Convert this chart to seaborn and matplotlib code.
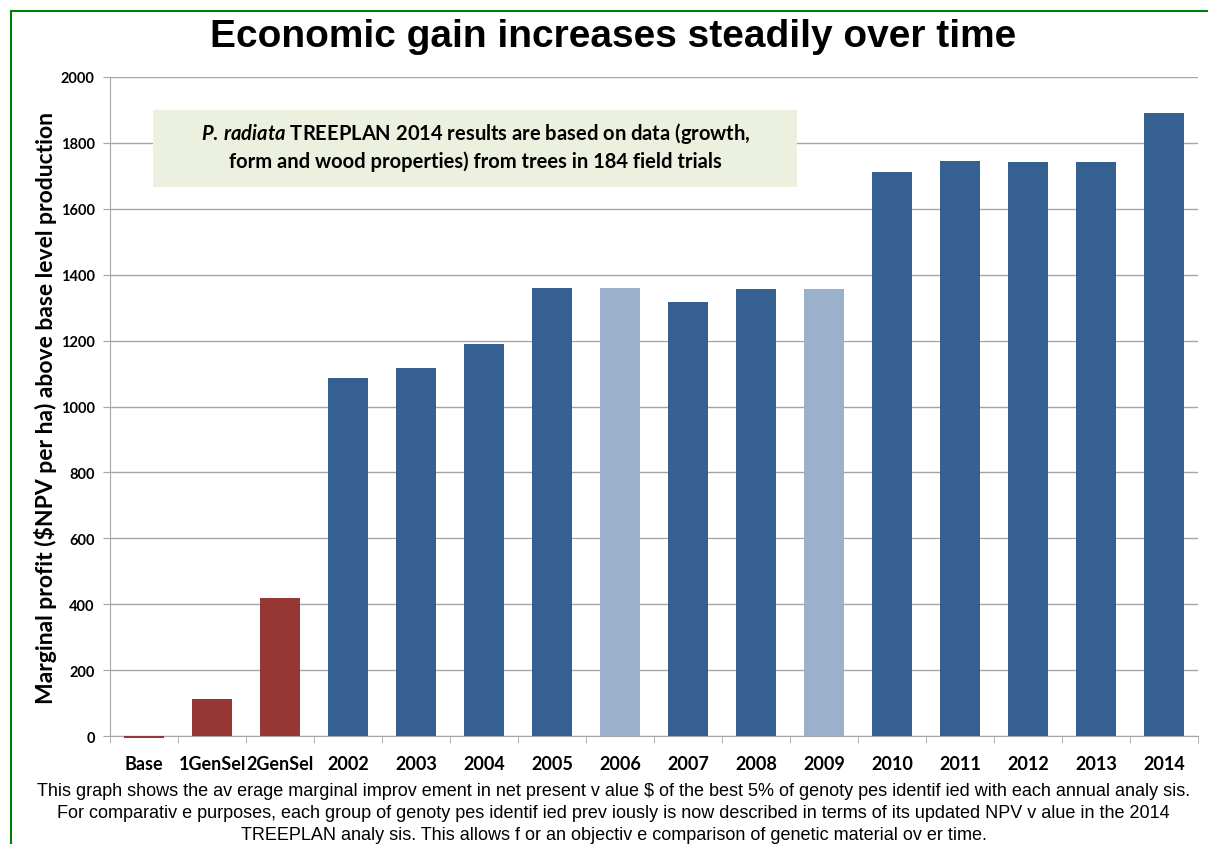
import matplotlib
matplotlib.use("Agg")
import matplotlib.pyplot as plt
import seaborn as sns
import pandas as pd
from matplotlib.patches import Rectangle

categories = ["Base", "1GenSel", "2GenSel", "2002", "2003", "2004", "2005", "2006",
              "2007", "2008", "2009", "2010", "2011", "2012", "2013", "2014"]
values = [-7, 112, 419, 1086, 1117, 1190, 1360, 1360, 1317, 1357, 1357, 1712, 1745, 1742, 1742, 1891]
groups = ["gen", "gen", "gen", "year", "year", "year", "year", "prior",
          "year", "year", "prior", "year", "year", "year", "year", "year"]
group_colors = {"gen": "#953735", "year": "#376092", "prior": "#9bb0cb"}
yticks = [0, 200, 400, 600, 800, 1000, 1200, 1400, 1600, 1800, 2000]

title = "Economic gain increases steadily over time"
ylabel = "Marginal profit ($NPV per ha) above base level production"
caption_lines = [
    "This graph shows the av erage marginal improv ement in net present v alue $ of the best 5% of genoty pes identif ied with each annual analy sis.",
    "For comparativ e purposes, each group of genoty pes identif ied prev iously is now described in terms of its updated NPV v alue in the 2014",
    "TREEPLAN analy sis. This allows f or an objectiv e comparison of genetic material ov er time.",
]

df = pd.DataFrame({"category": categories, "value": values})
palette = [group_colors[g] for g in groups]

sns.set_style("white")
plt.rcParams["font.family"] = ["Lato", "DejaVu Sans"]
plt.rcParams["text.color"] = "black"
plt.rcParams["axes.labelcolor"] = "black"
plt.rcParams["xtick.color"] = "black"
plt.rcParams["ytick.color"] = "black"
plt.rcParams["mathtext.fontset"] = "custom"
plt.rcParams["mathtext.it"] = "Lato:italic:bold"
plt.rcParams["mathtext.rm"] = "Lato:bold"

fig = plt.figure(figsize=(12.08, 8.45), dpi=100)
ax = fig.add_axes([0.0911, 0.1278, 0.9006, 0.7799])

sns.barplot(data=df, x="category", y="value", hue="category", palette=palette,
            legend=False, width=0.6, ax=ax, saturation=1, edgecolor="none")

ax.set_ylim(0, 2000)
ax.set_xlim(-0.5, len(categories) - 0.5)
ax.set_yticks(yticks)
ax.set_yticklabels([str(t) for t in yticks], fontsize=10.5, fontweight="bold")
ax.yaxis.grid(True, color="#a6a6a6", linewidth=1.0)
ax.set_axisbelow(True)
for s in ["top", "right"]:
    ax.spines[s].set_visible(False)
ax.spines["left"].set_color("#a6a6a6")
ax.spines["bottom"].set_color("#a6a6a6")
ax.tick_params(axis="y", length=5, color="#a6a6a6", labelcolor="black", pad=6, left=True)
ax.set_xticks(range(len(categories)))
ax.set_xticklabels(categories, fontsize=13, fontweight="bold")
ax.tick_params(axis="x", which="major", length=0, pad=14, labelcolor="black")
ax.set_xticks([i - 0.5 for i in range(len(categories) + 1)], minor=True)
ax.tick_params(axis="x", which="minor", length=5, color="#a6a6a6", bottom=True)
for b in ax.patches:
    b.set_clip_on(False)
    b.set_zorder(6)

ax.set_xlabel("")
ax.set_ylabel(ylabel, fontsize=16.5, fontweight="bold", color="black")
ax.yaxis.set_label_coords(-0.049, 0.5)

fig.text(0.5075, 0.956, title, ha="center", va="center", fontsize=28,
         fontweight="bold", color="black", family=["Liberation Sans", "DejaVu Sans"])

# annotation box
box = Rectangle((153 / 1208, 1 - 188 / 845), (797 - 153) / 1208, (188 - 111) / 845,
                transform=fig.transFigure, facecolor="#ebf1de", edgecolor="none", zorder=10)
fig.add_artist(box)
fig.text(0.3935, 1 - 133 / 845, r"$\mathit{P.\,radiata}$ TREEPLAN 2014 results are based on data (growth,",
         ha="center", va="center", fontsize=14.5, fontweight="bold", zorder=11)
fig.text(0.3935, 1 - 162 / 845, "form and wood properties) from trees in 184 field trials",
         ha="center", va="center", fontsize=14.5, fontweight="bold", zorder=11)

for i, line in enumerate(caption_lines):
    fig.text(0.508, 1 - (792 + i * 22) / 845, line, ha="center", va="center",
             fontsize=13, family=["Liberation Sans", "DejaVu Sans"])

# green frame (left and top visible)
fig.add_artist(plt.Line2D([11 / 1208, 11 / 1208], [0, 1 - 12 / 845], transform=fig.transFigure,
                          color="#008000", linewidth=1.5))
fig.add_artist(plt.Line2D([11 / 1208, 1], [1 - 12 / 845, 1 - 12 / 845], transform=fig.transFigure,
                          color="#008000", linewidth=1.5))

fig.savefig("out.png", dpi=100, facecolor="white")
